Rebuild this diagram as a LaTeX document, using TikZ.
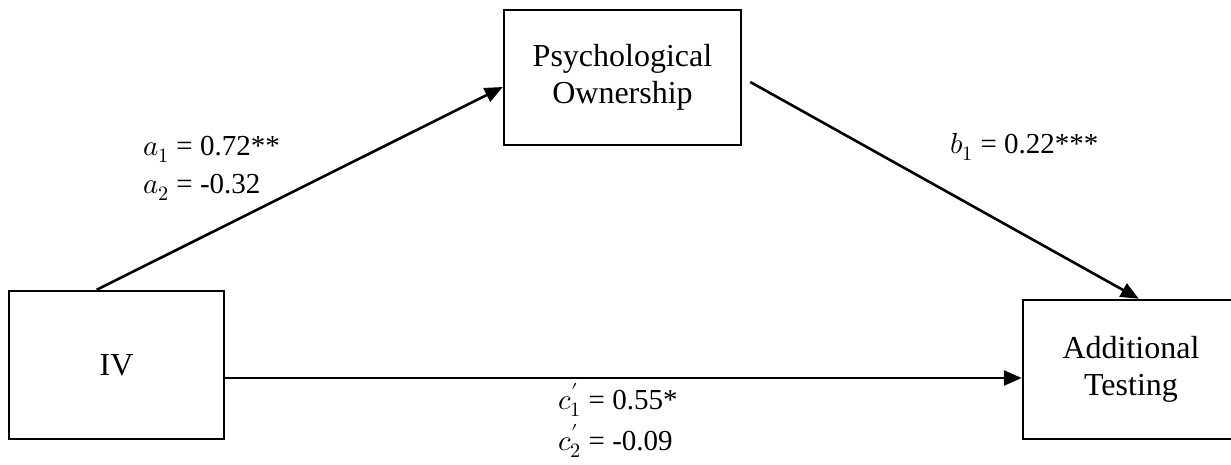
\documentclass[tikz,border=0pt]{standalone}
\usepackage{fontspec}
\usepackage{unicode-math}
\setmainfont{Liberation Serif}
\setmathfont{Latin Modern Math}
\usepackage{tikz}
\usetikzlibrary{calc,arrows.meta}

\begin{document}
\begin{tikzpicture}[x=1pt,y=-1pt]
  % Canvas and styles
  \useasboundingbox (0,0) rectangle (1231,464);
  \tikzset{
    box/.style={draw,line width=2.5pt,inner sep=0pt,align=center,
      font=\fontsize{32}{37}\selectfont},
    link/.style={line width=2.6pt,-{Triangle[length=18pt,width=15pt]}},
    lbl/.style={anchor=base west,inner sep=0pt,font=\fontsize{29}{34}\selectfont}
  }

  % Boxes
  \node[box,minimum width=215pt,minimum height=148pt] (iv) at (116.5,365) {IV};
  \node[box,minimum width=237pt,minimum height=135pt] (po) at (622.5,77.5) {Psychological\\Ownership};
  \node[box,minimum width=216pt,minimum height=139pt] (at) at (1131,369.5) {Additional\\Testing};

  % Ends of the paths
  \coordinate (ivtop) at ($(iv.north west)+(89,0)$);
  \coordinate (poin) at ($(po.west)+(0,9.5)$);
  \coordinate (poout) at ($(po.east)+(8,4.5)$);
  \coordinate (attop) at ($(at.north west)+(117,0)$);
  \coordinate (ivout) at ($(iv.east)+(0,13)$);
  \coordinate (atin) at ($(at.west)+(0,8.5)$);

  % Draw paths
  \draw[link] (ivtop) -- (poin);
  \draw[link] (poout) -- (attop);
  \draw[link] (ivout) -- (atin);

  % Coefficients
  \node[lbl] (a1) at (143,155) {$a_1$ = 0.72**};
  \node[lbl] (a2) at (143,193) {$a_2$ = -0.32};
  \node[lbl] (b1) at (950,153) {$b_1$ = 0.22***};
  \node[lbl] (c1) at (558,409) {$c^{\prime}_1$ = 0.55*};
  \node[lbl] (c2) at (558,450) {$c^{\prime}_2$ = -0.09};

\end{tikzpicture}
\end{document}
